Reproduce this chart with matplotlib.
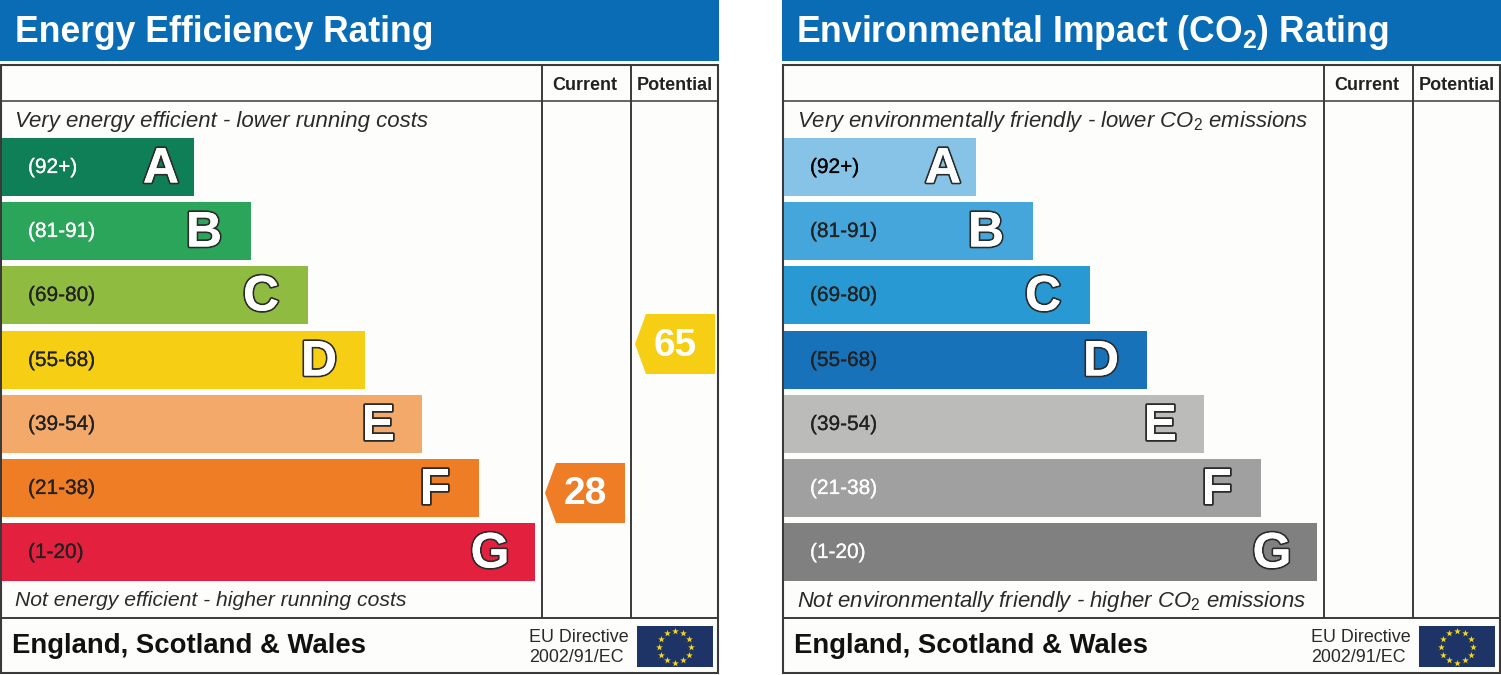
import numpy as np
import matplotlib
matplotlib.use('Agg')
import matplotlib.pyplot as plt
import matplotlib.patheffects as pe
from matplotlib.patches import Rectangle, Polygon

plt.rcParams['font.family'] = ['Liberation Sans', 'DejaVu Sans']
plt.rcParams['mathtext.fontset'] = 'custom'
plt.rcParams['mathtext.rm'] = 'Liberation Sans'
plt.rcParams['mathtext.it'] = 'Liberation Sans:italic'
plt.rcParams['mathtext.bf'] = 'Liberation Sans:bold'

# bands, shared by both panels
letters = ['A', 'B', 'C', 'D', 'E', 'F', 'G']
ranges = ['(92+)', '(81-91)', '(69-80)', '(55-68)', '(39-54)', '(21-38)', '(1-20)']
band_length = [192, 249, 306, 363, 419.5, 476.5, 533]
band_centre = [167, 231, 295, 360, 424, 488, 552]
letter_x = [161, 204, 261, 319, 378, 435, 490]

energy_colors = ['#0f7f57', '#2ba55a', '#8fbc40', '#f6cf14', '#f3a96a', '#ee7d26', '#e3203d']
energy_range_colors = ['white', 'white', '#222222', '#222222', '#222222', '#222222', '#222222']
co2_colors = ['#87c3e6', '#44a6db', '#2899d2', '#1872ba', '#bbbbb9', '#a0a0a0', '#808080']
co2_range_colors = ['black', '#222222', '#222222', '#222222', '#222222', 'white', 'white']

# (value, left edge, centre height) of the rating arrows on the energy panel
energy_current = (28, 545, 493)
energy_potential = (65, 635, 344)

NAVY = '#1f3466'
BLUE = '#0a6cb4'
LINE = '#3a3a3a'
PAPER = '#fdfdfb'


def draw_arrow(ax, value, left, centre, color):
    pts = [(left, centre), (left + 11, centre - 30), (left + 80, centre - 30),
           (left + 80, centre + 30), (left + 11, centre + 30)]
    ax.add_patch(Polygon(pts, closed=True, fc=color, ec='none', zorder=4))
    ax.text(left + 40, centre + 1.5, str(value), color='white', fontsize=28, fontweight='bold',
            ha='center', va='center', zorder=5)


def draw_panel(ax, x0, title, title_x, top_text, bottom_text, text_sizes, colors, range_colors):
    ax.add_patch(Rectangle((x0, 0), 719, 61, fc=BLUE, ec='none'))
    ax.text(x0 + title_x, 32, title, color='white', fontsize=25.6, fontweight='bold', va='center')

    # frame and table lines
    ax.add_patch(Rectangle((x0 + 1, 65), 717, 608, fc=PAPER, ec=LINE, lw=1.5))
    ax.plot([x0 + 1, x0 + 718], [101, 101], color=LINE, lw=1.1)
    ax.plot([x0 + 1, x0 + 718], [617.5, 617.5], color=LINE, lw=1.4)
    for x in [x0 + 542, x0 + 630.5]:
        ax.plot([x, x], [65, 617], color=LINE, lw=1.4)
    ax.text(x0 + 585, 85.5, 'Current', fontsize=13, fontweight='bold', color='#222222', ha='center', va='center')
    ax.text(x0 + 674.5, 85.5, 'Potential', fontsize=13, fontweight='bold', color='#222222', ha='center', va='center')

    ax.text(x0 + 15, 121, top_text, fontsize=text_sizes[0], style='italic', color='#2a2a2a', va='center')
    ax.text(x0 + 15, 601, bottom_text, fontsize=text_sizes[1], style='italic', color='#2a2a2a', va='center')

    ax.barh(band_centre, band_length, height=58, left=x0 + 2, color=colors, zorder=2)
    for i, letter in enumerate(letters):
        ax.text(x0 + 28, band_centre[i] + 0.5, ranges[i], color=range_colors[i], fontsize=15, va='center', zorder=3,
                path_effects=[pe.withStroke(linewidth=0.15, foreground=range_colors[i])])
        ax.text(x0 + letter_x[i], band_centre[i] + 2.5, letter, color='white', fontsize=36, fontweight='bold',
                ha='center', va='center', zorder=3,
                path_effects=[pe.withStroke(linewidth=2.6, foreground='#2b2b2b'), pe.Normal()])

    # footer
    ax.text(x0 + 11.5, 646, 'England, Scotland & Wales', fontsize=19.85, fontweight='bold', color='#111111', va='center')
    ax.text(x0 + 529, 637, 'EU Directive', fontsize=12.9, color='#2a2a2a', va='center')
    ax.text(x0 + 529, 657, '2002/91/EC', fontsize=12.9, color='#2a2a2a', va='center')
    ax.add_patch(Rectangle((x0 + 637, 626), 76, 41, fc=NAVY, ec='none', zorder=2))
    angles = np.arange(12) * np.pi / 6
    ax.scatter(x0 + 675 + 16 * np.cos(angles), 646.5 + 16 * np.sin(angles), marker='*', s=26,
               color='#f7d917', linewidths=0, zorder=3)


fig = plt.figure(figsize=(15.01, 6.75), dpi=100)
ax = fig.add_axes([0, 0, 1, 1])
ax.set_xlim(0, 1501)
ax.set_ylim(675, 0)
ax.axis('off')

draw_panel(ax, 0, 'Energy Efficiency Rating', 15,
           'Very energy efficient - lower running costs',
           'Not energy efficient - higher running costs',
           (16, 15.2), energy_colors, energy_range_colors)
draw_panel(ax, 782, r'Environmental Impact (CO$\mathbf{_2}$) Rating', 14,
           r'Very environmentally friendly - lower CO$\mathit{_2}$ emissions',
           r'Not environmentally friendly - higher CO$\mathit{_2}$ emissions',
           (15.95, 15.95), co2_colors, co2_range_colors)

draw_arrow(ax, energy_current[0], energy_current[1], energy_current[2], energy_colors[5])
draw_arrow(ax, energy_potential[0], energy_potential[1], energy_potential[2], energy_colors[3])

fig.savefig('out.png', dpi=100)
